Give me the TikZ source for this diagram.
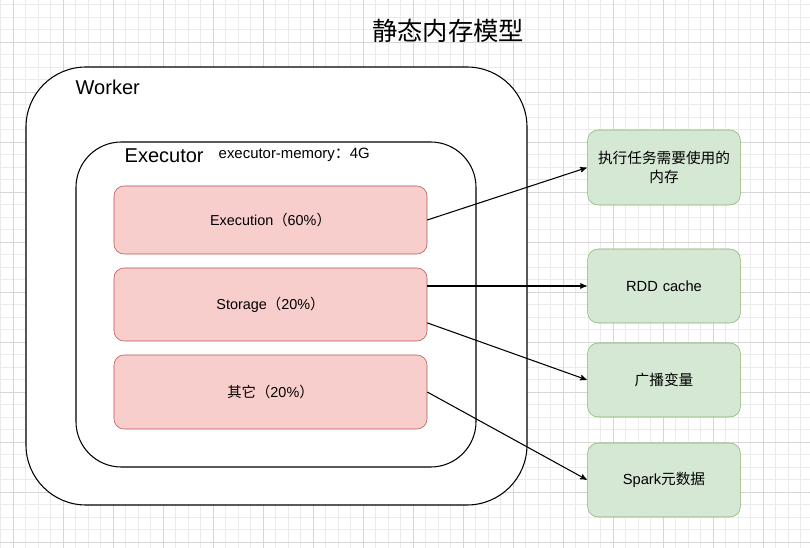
\documentclass[tikz,border=0pt]{standalone}
\usepackage{fontspec}
\setmainfont{Liberation Sans}
\newfontfamily\cjk{Noto Sans CJK SC}
\usepackage{tikz}
\usetikzlibrary{arrows}
\usetikzlibrary{calc}

\definecolor{gridminor}{HTML}{EBEBEB}
\definecolor{gridmajor}{HTML}{D6D6D6}
\definecolor{redfill}{HTML}{F8CECC}
\definecolor{redline}{HTML}{B85450}
\definecolor{greenfill}{HTML}{D5E8D4}
\definecolor{greenline}{HTML}{82B366}

\begin{document}
\begin{tikzpicture}[x=0.75pt, y=-0.75pt]
			\tikzset{container/.style = {shape=rectangle, draw, fill=white, line width=0.8pt}}
			\tikzset{part/.style = {shape=rectangle, draw=redline, fill=redfill, rounded corners=7.5pt, minimum width=234.75pt, font=\fontsize{10.8}{13}\selectfont}}
			\tikzset{usage/.style = {shape=rectangle, draw=greenline, fill=greenfill, rounded corners=8pt, minimum width=112.5pt, minimum height=55.5pt, align=center, text width=108pt, font=\fontsize{11}{14}\selectfont}}
			\tikzset{edge/.style = {->, > = stealth', line width=0.8pt, shorten >=0.5pt}}
			\useasboundingbox (0,0) rectangle (810,548);
			\fill[white] (0,0) rectangle (810,548);
			% grid
			\foreach \i in {0,...,64} \draw[gridminor, line width=0.5pt] (0.8+12.5*\i,0) -- (0.8+12.5*\i,548);
			\foreach \i in {0,...,44} \draw[gridminor, line width=0.5pt] (0,4.8+12.5*\i) -- (810,4.8+12.5*\i);
			\foreach \i in {0,...,15} \draw[gridmajor, line width=0.5pt] (13.3+50*\i,0) -- (13.3+50*\i,548);
			\foreach \i in {0,...,10} \draw[gridmajor, line width=0.5pt] (0,42.3+50*\i) -- (810,42.3+50*\i);
			% title
			\node[font=\cjk\fontsize{19}{21}\selectfont] (title) at (448, 31) {静态内存模型};
			% containers
			\node[container, rounded corners=45pt, minimum width=375.75pt, minimum height=328.5pt] (worker) at (276.5, 286) {};
			\node[anchor=west, font=\fontsize{15}{18}\selectfont] (workerlabel) at (71, 87) {Worker};
			\node[container, rounded corners=34pt, minimum width=300pt, minimum height=243.75pt] (executor) at (276, 304.5) {};
			\node[anchor=west, font=\fontsize{15}{18}\selectfont] (executorlabel) at (120, 156) {Executor};
			\node[anchor=west, font=\fontsize{11.2}{13}\selectfont] (memlabel) at (214, 155) {executor-memory{\cjk ：}4G};
			% parts
			\node[part, minimum height=51pt] (exe) at (270.5, 220) {Execution{\cjk （}60\%{\cjk ）}};
			\node[part, minimum height=54.75pt] (sto) at (270.5, 304.5) {Storage{\cjk （}20\%{\cjk ）}};
			\node[part, minimum height=55.5pt] (oth) at (270.5, 392) {{\cjk 其它（}20\%{\cjk ）}};
			% usages
			\node[usage, minimum height=56.25pt] (mem) at (664, 167.5) {\cjk 执行任务需要使用的\\内存};
			\node[usage] (rdd) at (664, 286) {RDD cache};
			\node[usage] (bc) at (664, 380) {\cjk 广播变量};
			\node[usage] (meta) at (664, 480) {Spark{\cjk 元数据}};
			% edges
			\draw[edge] (exe.east) -- (mem.west);
			\draw[edge] (sto.east |- rdd.west) -- (rdd.west);
			\draw[edge] ($(sto.east)!0.5!(sto.south east)$) -- (bc.west);
			\draw[edge] (oth.east) -- (meta.west);
		\end{tikzpicture}
\end{document}
